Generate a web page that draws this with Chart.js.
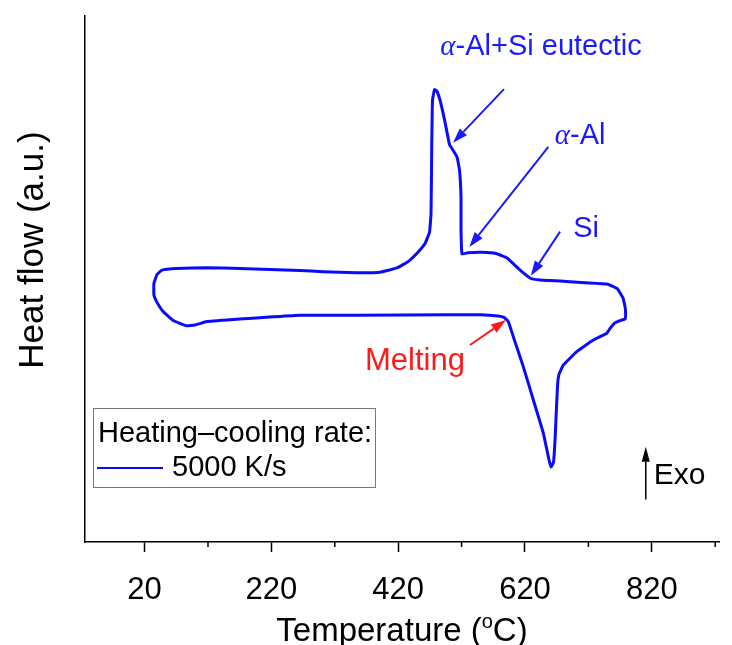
<!DOCTYPE html>
<html>
<head>
<meta charset="utf-8">
<script src="https://cdn.jsdelivr.net/npm/chart.js@4.4.1/dist/chart.umd.min.js"></script>
<style>
  html, body { margin: 0; padding: 0; background: #fff; }
  #wrap { width: 732px; height: 645px; }
</style>
</head>
<body>
<div id="wrap"><canvas id="dscChart"></canvas></div>
<script>
// DSC loop: cooling branch (right to left), then heating branch (left to right)
const temperature = [
  774.7, 765.2, 749.5, 714.7, 691.1, 659.5, 643.7, 629.5, 612.2, 591.7, 574.3, 552.2, 530.1, 520.7,
  519.1, 519.1, 516.7, 512.8, 504.9, 501.0, 493.8, 486.0, 481.2, 477.3, 474.1, 472.9, 471.8, 469.4,
  462.3, 451.2, 435.5, 418.1, 391.3, 355.0, 301.3, 265.0, 170.4, 118.3, 71.0, 47.3, 39.4, 34.7,
  34.7, 38.9, 49.3, 65.1, 86.3, 99.4, 118.3, 170.4, 222.4, 265.0, 355.0, 501.7, 549.1, 577.5,
  586.9, 593.7, 601.6, 617.4, 633.2, 648.9, 657.9, 661.1, 665.0, 667.4, 669.0, 671.4, 673.7, 680.5,
  701.7, 727.8, 749.0, 754.2, 762.1, 770.0, 777.9, 778.7, 777.9, 774.7
];
const heatFlow = [
  46.4, 48.2, 49.05, 49.3, 49.5, 49.7, 49.8, 50.1, 51.7, 54.0, 54.85, 55.1, 55.0, 54.75,
  59.3, 65.6, 70.7, 73.2, 74.8, 75.5, 79.85, 84.0, 85.7, 86.0, 84.0, 75.1, 62.5, 58.9,
  56.75, 55.1, 53.3, 52.1, 51.3, 51.2, 51.4, 51.6, 52.0, 52.15, 52.0, 51.7, 50.8, 49.2,
  46.96, 45.7, 43.8, 42.1, 41.1, 41.25, 41.9, 42.4, 42.8, 43.1, 43.1, 43.2, 43.2, 42.97,
  42.7, 41.9, 39.0, 33.3, 27.0, 20.7, 15.6, 14.26, 15.2, 19.4, 23.8, 29.85, 31.9, 33.65,
  36.2, 38.4, 39.7, 40.6, 41.7, 42.1, 42.4, 43.5, 44.7, 46.4
];
const tickTemps = [20, 220, 420, 620, 820];
const minorTemps = [120, 320, 520, 720, 920];

// annotation arrows [T, y] for tail and head
const arrowTails = [[586.9, 86.1], [656.8, 75.1], [675.3, 59.0], [533.3, 37.45]];
const arrowHeads = [[506.5, 75.9], [532.2, 56.1], [629.1, 50.6], [590.1, 42.2]];
const arrowColors = ['#1a1aff', '#1a1aff', '#1a1aff', '#ff1a1a'];
const noteTexts = [['α', '-Al+Si eutectic'], ['α', '-Al'], ['', 'Si'], ['', 'Melting']];
const notePos = [[645.3, 94.1], [706.9, 77.2], [716.3, 59.5], [446.5, 34.4]];
const noteColors = ['#1a1aff', '#1a1aff', '#1a1aff', '#ff1a1a'];
const exoArrow = [810.5, 8.1, 18.1];

const SANS = '"Liberation Sans", Arial, sans-serif';
const points = temperature.map((t, i) => ({ x: t, y: heatFlow[i] }));

function arrow(ctx, x1, y1, x2, y2, color, lw, headLen, headW) {
  const a = Math.atan2(y2 - y1, x2 - x1);
  const bx = x2 - headLen * Math.cos(a), by = y2 - headLen * Math.sin(a);
  ctx.strokeStyle = color; ctx.fillStyle = color; ctx.lineWidth = lw;
  ctx.beginPath(); ctx.moveTo(x1, y1); ctx.lineTo(bx, by); ctx.stroke();
  ctx.beginPath();
  ctx.moveTo(x2, y2);
  ctx.lineTo(bx + headW * Math.sin(a), by - headW * Math.cos(a));
  ctx.lineTo(bx - headW * Math.sin(a), by + headW * Math.cos(a));
  ctx.closePath(); ctx.fill();
}

const decor = {
  id: 'decor',
  afterDraw(chart) {
    const { ctx, chartArea: area, scales: { x, y } } = chart;
    ctx.save();

    // minor ticks on the temperature axis
    ctx.strokeStyle = '#000'; ctx.lineWidth = 1.5;
    minorTemps.forEach(t => {
      const px = x.getPixelForValue(t);
      ctx.beginPath(); ctx.moveTo(px, area.bottom); ctx.lineTo(px, area.bottom + 5); ctx.stroke();
    });

    // arrows + labels
    arrowTails.forEach((tl, i) => {
      const hd = arrowHeads[i];
      arrow(ctx, x.getPixelForValue(tl[0]), y.getPixelForValue(tl[1]),
        x.getPixelForValue(hd[0]), y.getPixelForValue(hd[1]), arrowColors[i], 2, 15, 5);
    });
    ctx.textBaseline = 'middle';
    noteTexts.forEach((parts, i) => {
      const size = i === 3 ? 31 : 29;
      ctx.font = 'italic ' + size + 'px "Liberation Serif", serif';
      const w1 = ctx.measureText(parts[0]).width;
      ctx.font = size + 'px ' + SANS;
      const w2 = ctx.measureText(parts[1]).width;
      const px = x.getPixelForValue(notePos[i][0]) - (w1 + w2) / 2;
      const py = y.getPixelForValue(notePos[i][1]);
      ctx.fillStyle = noteColors[i];
      ctx.textAlign = 'left';
      ctx.font = 'italic ' + size + 'px "Liberation Serif", serif';
      ctx.fillText(parts[0], px, py);
      ctx.font = size + 'px ' + SANS;
      ctx.fillText(parts[1], px + w1, py);
    });

    // Exo arrow
    const ex = x.getPixelForValue(exoArrow[0]);
    arrow(ctx, ex, y.getPixelForValue(exoArrow[1]), ex, y.getPixelForValue(exoArrow[2]), '#000', 1.5, 15, 4);
    ctx.fillStyle = '#000'; ctx.font = '30px ' + SANS; ctx.textAlign = 'left';
    ctx.fillText('Exo', ex + 8, (y.getPixelForValue(exoArrow[1]) + y.getPixelForValue(exoArrow[2])) / 2 + 3);

    // legend box
    const lx = area.left + 8, ly = area.bottom - 134;
    ctx.strokeStyle = '#777'; ctx.lineWidth = 1;
    ctx.strokeRect(lx + 0.5, ly + 0.5, 282, 79);
    ctx.fillStyle = '#000'; ctx.font = '29px ' + SANS;
    ctx.fillText('Heating\u2013cooling rate:', lx + 5, ly + 26);
    ctx.strokeStyle = chart.data.datasets[0].borderColor; ctx.lineWidth = 2;
    ctx.beginPath(); ctx.moveTo(lx + 4, ly + 60); ctx.lineTo(lx + 70, ly + 60); ctx.stroke();
    ctx.fillText(chart.data.datasets[0].label, lx + 79, ly + 60);

    // x title with superscript "o"
    ctx.font = '33px ' + SANS;
    const a = 'Temperature (', c = 'C)';
    const wa = ctx.measureText(a).width, wc = ctx.measureText(c).width;
    ctx.font = '20px ' + SANS;
    const wo = ctx.measureText('o').width;
    const tx = (area.left + area.right) / 2 - (wa + wo + wc) / 2;
    const ty = 632;
    ctx.font = '33px ' + SANS; ctx.fillText(a, tx, ty);
    ctx.font = '20px ' + SANS; ctx.fillText('o', tx + wa, ty - 10);
    ctx.font = '33px ' + SANS; ctx.fillText(c, tx + wa + wo, ty);

    // y title
    ctx.translate(33, area.top + (area.bottom - area.top) * 0.445);
    ctx.rotate(-Math.PI / 2);
    ctx.textAlign = 'center';
    ctx.font = '35px ' + SANS;
    ctx.fillText('Heat flow (a.u.)', 0, 0);
    ctx.restore();
  }
};

new Chart(document.getElementById('dscChart'), {
  type: 'scatter',
  data: {
    datasets: [{
      label: '5000 K/s',
      data: points,
      showLine: true,
      borderColor: '#0a0aff',
      borderWidth: 3,
      pointRadius: 0,
      tension: 0.1,
      fill: false
    }]
  },
  options: {
    responsive: true,
    maintainAspectRatio: false,
    animation: false,
    layout: { padding: { top: 16, right: 13, left: 0, bottom: 0 } },
    plugins: { legend: { display: false }, tooltip: { enabled: false } },
    scales: {
      x: {
        type: 'linear', min: -74, max: 926,
        afterBuildTicks: s => { s.ticks = tickTemps.map(v => ({ value: v })); },
        afterFit: s => { s.height = 103; },
        grid: { drawOnChartArea: false, drawTicks: true, tickLength: 10, tickColor: '#000', tickWidth: 1.5 },
        border: { color: '#000', width: 1.5 },
        ticks: { color: '#000', font: { family: SANS, size: 31 }, padding: 20, maxRotation: 0, autoSkip: false }
      },
      y: {
        min: 0, max: 100,
        afterFit: s => { s.width = 85; },
        ticks: { display: false },
        grid: { display: false, drawTicks: false },
        border: { color: '#000', width: 1.5 }
      }
    }
  },
  plugins: [decor]
});
</script>
</body>
</html>
